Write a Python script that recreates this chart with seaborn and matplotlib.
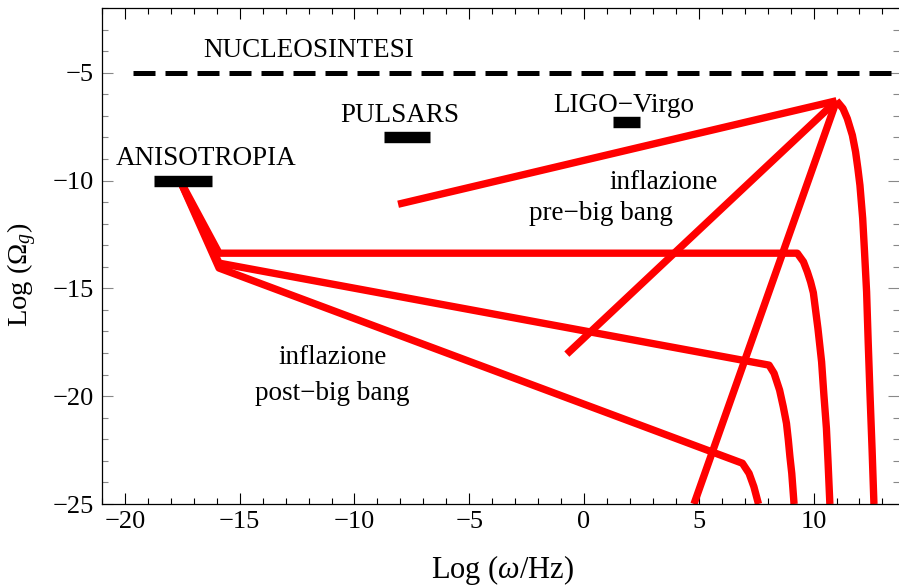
import numpy as np
import pandas as pd
import matplotlib
matplotlib.use("Agg")
import matplotlib.pyplot as plt
import seaborn as sns

# ---------------- data ----------------
# post-big-bang spectra (three variants)
post_flat_x = [-17.6, -15.9, 9.29, 9.56, 9.73, 9.87, 9.99, 10.19, 10.35, 10.45, 10.56, 10.63, 10.71]
post_flat_y = [-10.0, -13.37, -13.37, -13.77, -14.24, -14.70, -15.2, -16.86, -18.41, -19.95, -21.49, -23.04, -25.0]
post_mid_x = [-17.6, -15.9, 8.06, 8.28, 8.52, 8.68, 8.82, 8.90, 8.97, 9.05, 9.15]
post_mid_y = [-10.0, -13.83, -18.56, -18.94, -19.72, -20.49, -21.26, -22.03, -22.81, -23.58, -25.0]
post_low_x = [-17.6, -15.9, 6.90, 7.19, 7.40, 7.60]
post_low_y = [-10.0, -14.06, -23.11, -23.58, -24.20, -25.0]

# pre-big-bang spectra
pre_a_x = [-8.1, 11.0]
pre_a_y = [-11.1, -6.3]
pre_b_x = [-0.75, 11.0]
pre_b_y = [-18.05, -6.3]
pre_c_x = [4.79, 11.0]
pre_c_y = [-25.0, -6.3]
pre_cut_x = [11.0, 11.28, 11.47, 11.69, 11.83, 11.93, 12.02, 12.14, 12.22, 12.31, 12.38, 12.46, 12.55, 12.63]
pre_cut_y = [-6.3, -6.66, -7.13, -7.90, -8.67, -9.44, -10.22, -11.76, -13.31, -15.16, -17.5, -19.95, -22.5, -25.0]

# observational bounds
nucleo_x = [-19.65, 13.45]
nucleo_y = [-5.0, -5.0]
aniso_x = [-18.73, -16.20]
aniso_y = [-10.0, -10.0]
pulsar_x = [-8.71, -6.72]
pulsar_y = [-8.0, -8.0]
ligo_x = [1.26, 2.46]
ligo_y = [-7.3, -7.3]

# labels: (text, x, y)
label_texts = ["NUCLEOSINTESI", "PULSARS", "LIGO\u2212Virgo", "ANISOTROPIA",
               "inflazione", "pre\u2212big bang", "inflazione", "post\u2212big bang"]
label_x = [-12.01, -8.03, 1.75, -16.46, 3.45, 0.73, -10.97, -10.97]
label_y = [-4.27, -7.28, -6.82, -9.29, -10.37, -11.84, -18.51, -20.18]

x_major = [-20, -15, -10, -5, 0, 5, 10]
y_major = [-25, -20, -15, -10, -5]

# ---------------- styling ----------------
sns.set_theme(style="ticks")
plt.rcParams["font.family"] = ["Liberation Serif", "DejaVu Serif"]
plt.rcParams["mathtext.fontset"] = "custom"
plt.rcParams["mathtext.rm"] = "Liberation Serif"
plt.rcParams["mathtext.it"] = "Liberation Serif:italic"
plt.rcParams["mathtext.bf"] = "Liberation Serif:bold"
plt.rcParams["text.color"] = "black"
plt.rcParams["axes.labelcolor"] = "black"

fig = plt.figure(figsize=(8.99, 5.86), dpi=100)
ax = fig.add_axes([102 / 899, 82 / 586, 796.5 / 899, 496 / 586])

red = "#ff0000"
lw_red = 5.3
curves = [(post_flat_x, post_flat_y), (post_mid_x, post_mid_y), (post_low_x, post_low_y),
          (pre_a_x, pre_a_y), (pre_b_x, pre_b_y), (pre_c_x, pre_c_y), (pre_cut_x, pre_cut_y)]
for cx, cy in curves:
    df = pd.DataFrame({"x": cx, "y": cy})
    sns.lineplot(data=df, x="x", y="y", sort=False, estimator=None, ax=ax,
                 color=red, linewidth=lw_red, solid_joinstyle="round", solid_capstyle="butt")

# nucleosynthesis dashed bound
sns.lineplot(x=nucleo_x, y=nucleo_y, ax=ax, color="black", linewidth=3.6,
             linestyle=(0, (4.4, 2.0)), dash_capstyle="butt", sort=False, estimator=None)

for bx, by in [(aniso_x, aniso_y), (pulsar_x, pulsar_y), (ligo_x, ligo_y)]:
    sns.lineplot(x=bx, y=by, ax=ax, color="black", linewidth=8.2,
                 solid_capstyle="butt", sort=False, estimator=None)

for t, tx, ty in zip(label_texts, label_x, label_y):
    ax.text(tx, ty, t, ha="center", va="baseline", fontsize=19.5, color="black")

ax.set_xlim(-21, 13.7)
ax.set_ylim(-25, -2)
ax.set_xticks(x_major)
ax.set_yticks(y_major)
ax.set_xticks(np.arange(-21, 14, 1), minor=True)
ax.set_yticks(np.arange(-25, -1, 1), minor=True)
ax.set_xticklabels([f"\u2212{abs(v)}" if v < 0 else f"{v}" for v in x_major])
ax.set_yticklabels([f"\u2212{abs(v)}" for v in y_major])

ax.tick_params(axis="both", which="both", direction="in", top=True, right=True,
               colors="black", labelsize=19, width=0.8)
ax.tick_params(axis="both", which="major", length=8)
ax.tick_params(axis="both", which="minor", length=4.5)
ax.tick_params(axis="x", which="major", pad=5)
ax.tick_params(axis="y", which="major", pad=6)
ax.tick_params(axis="y", which="both", right=True, color="#888888")
ax.tick_params(axis="y", which="both", left=True)
for t in ax.yaxis.get_ticklines(minor=False)[::2]:
    t.set_color("black")
for t in ax.yaxis.get_ticklines(minor=True)[::2]:
    t.set_color("black")
for side in ["left", "bottom", "top"]:
    ax.spines[side].set_linewidth(0.9)
    ax.spines[side].set_color("black")
ax.spines["right"].set_visible(False)

ax.set_xlabel(r"Log ($\omega$/Hz)", fontsize=22, color="black")
ax.set_ylabel(r"Log ($\Omega_g$)", fontsize=20.5, color="black")
ax.xaxis.set_label_coords(0.503, -0.098)
ax.yaxis.set_label_coords(-0.079, 0.462)

fig.savefig("out.png", dpi=100)
